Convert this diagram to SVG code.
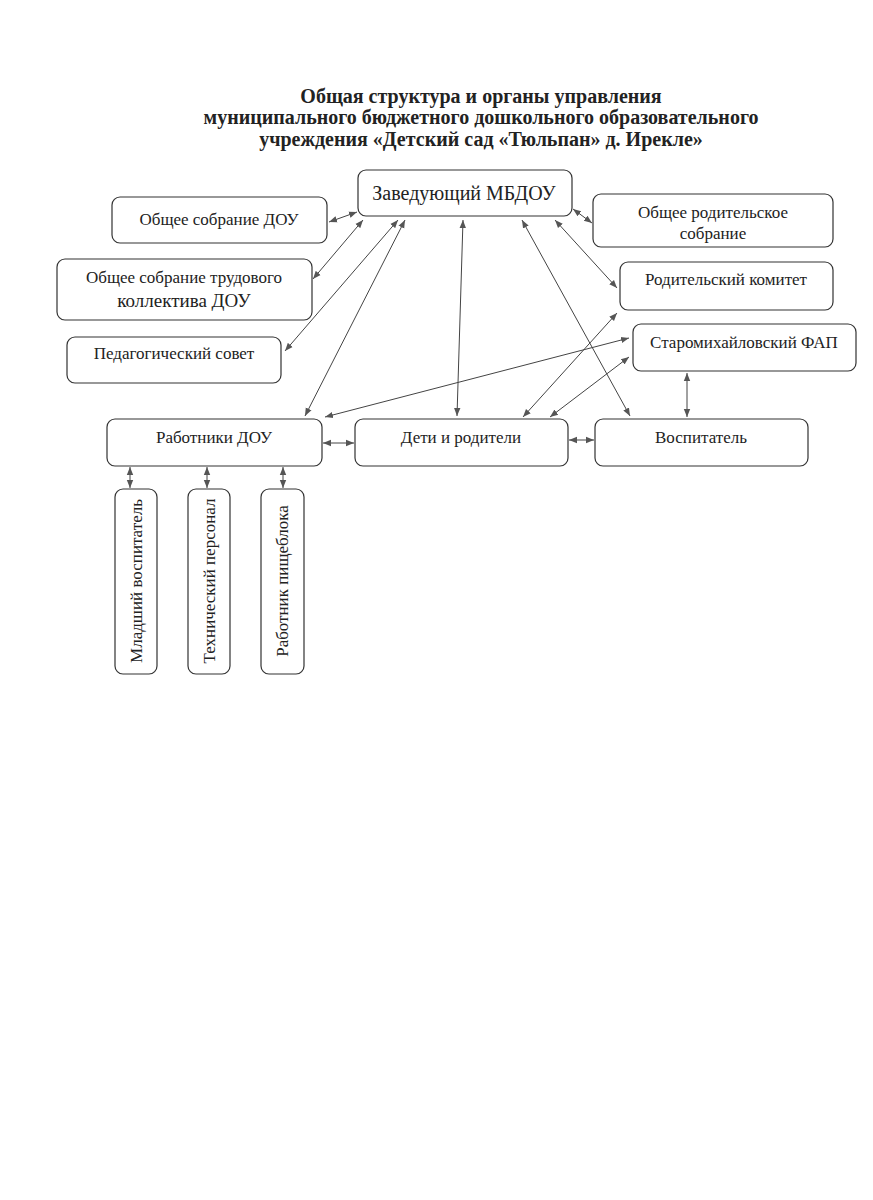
<svg xmlns="http://www.w3.org/2000/svg" width="873" height="1200" viewBox="0 0 873 1200">
<defs>
<marker id="a" viewBox="0 0 10 10" refX="10" refY="5" markerWidth="8" markerHeight="8" markerUnits="userSpaceOnUse" orient="auto-start-reverse">
<path d="M0,1 L10,5 L0,9 z" fill="#555"/>
</marker>
<style>
.n rect{fill:#fff;stroke:#333;stroke-width:1.2}
.n text{font-family:"Liberation Serif","Times New Roman",serif;font-size:17px;fill:#222;text-anchor:middle}
.t{font-family:"Liberation Serif","Times New Roman",serif;font-size:20px;font-weight:bold;fill:#222;text-anchor:middle}
#c line{stroke:#444;stroke-width:1;marker-start:url(#a);marker-end:url(#a)}
</style>
</defs>
<rect width="873" height="1200" fill="#fff"/>
<text class="t" x="481" y="103">Общая структура и органы управления</text>
<text class="t" x="481" y="124">муниципального бюджетного дошкольного образовательного</text>
<text class="t" x="481" y="146">учреждения «Детский сад «Тюльпан» д. Ирекле»</text>

<g id="head" class="n"><rect x="358" y="170" width="214" height="46" rx="8"/><text x="464" y="200" style="font-size:20px">Заведующий МБДОУ</text></g>
<g id="os" class="n"><rect x="112" y="197" width="215" height="46" rx="8"/><text x="219" y="225">Общее собрание ДОУ</text></g>
<g id="ostk" class="n"><rect x="57" y="259" width="255" height="61" rx="8"/><text x="184" y="283">Общее собрание трудового</text><text x="184" y="307" style="font-size:19px">коллектива ДОУ</text></g>
<g id="ps" class="n"><rect x="67" y="337" width="214" height="46" rx="8"/><text x="174" y="359">Педагогический совет</text></g>
<g id="ors" class="n"><rect x="593" y="194" width="240" height="53" rx="8"/><text x="713" y="218">Общее родительское</text><text x="713" y="239">собрание</text></g>
<g id="rk" class="n"><rect x="620" y="262" width="213" height="48" rx="8"/><text x="726" y="285">Родительский комитет</text></g>
<g id="fap" class="n"><rect x="633" y="324" width="223" height="47" rx="8"/><text x="744" y="348">Старомихайловский ФАП</text></g>
<g id="rab" class="n"><rect x="107" y="419" width="215" height="47" rx="8"/><text x="214" y="443">Работники ДОУ</text></g>
<g id="det" class="n"><rect x="355" y="419" width="213" height="47" rx="8"/><text x="461" y="443">Дети и родители</text></g>
<g id="vos" class="n"><rect x="595" y="419" width="213" height="47" rx="8"/><text x="701" y="443">Воспитатель</text></g>
<g id="mv" class="n"><rect x="115" y="489" width="42" height="185" rx="8"/><text transform="translate(142,581) rotate(-90)">Младший воспитатель</text></g>
<g id="tp" class="n"><rect x="188" y="489" width="42" height="185" rx="8"/><text transform="translate(215,581) rotate(-90)">Технический персонал</text></g>
<g id="rp" class="n"><rect x="261" y="489" width="43" height="185" rx="8"/><text transform="translate(288,581) rotate(-90)">Работник пищеблока</text></g>

<g id="c">
<line x1="329" y1="222" x2="357" y2="212"/>
<line x1="363" y1="220" x2="313" y2="279"/>
<line x1="398" y1="220" x2="285" y2="351"/>
<line x1="405" y1="220" x2="305" y2="416"/>
<line x1="463" y1="220" x2="457" y2="416"/>
<line x1="522" y1="220" x2="630" y2="416"/>
<line x1="555" y1="220" x2="617" y2="288"/>
<line x1="573" y1="209" x2="592" y2="223"/>
<line x1="325" y1="417" x2="629" y2="338"/>
<line x1="523" y1="417" x2="617" y2="313"/>
<line x1="550" y1="417" x2="629" y2="357"/>
<line x1="687" y1="373" x2="687" y2="417"/>
<line x1="323" y1="443" x2="354" y2="443"/>
<line x1="569" y1="440" x2="594" y2="440"/>
<line x1="130" y1="467" x2="130" y2="488"/>
<line x1="207" y1="467" x2="207" y2="488"/>
<line x1="283" y1="467" x2="283" y2="488"/>
</g>
</svg>
